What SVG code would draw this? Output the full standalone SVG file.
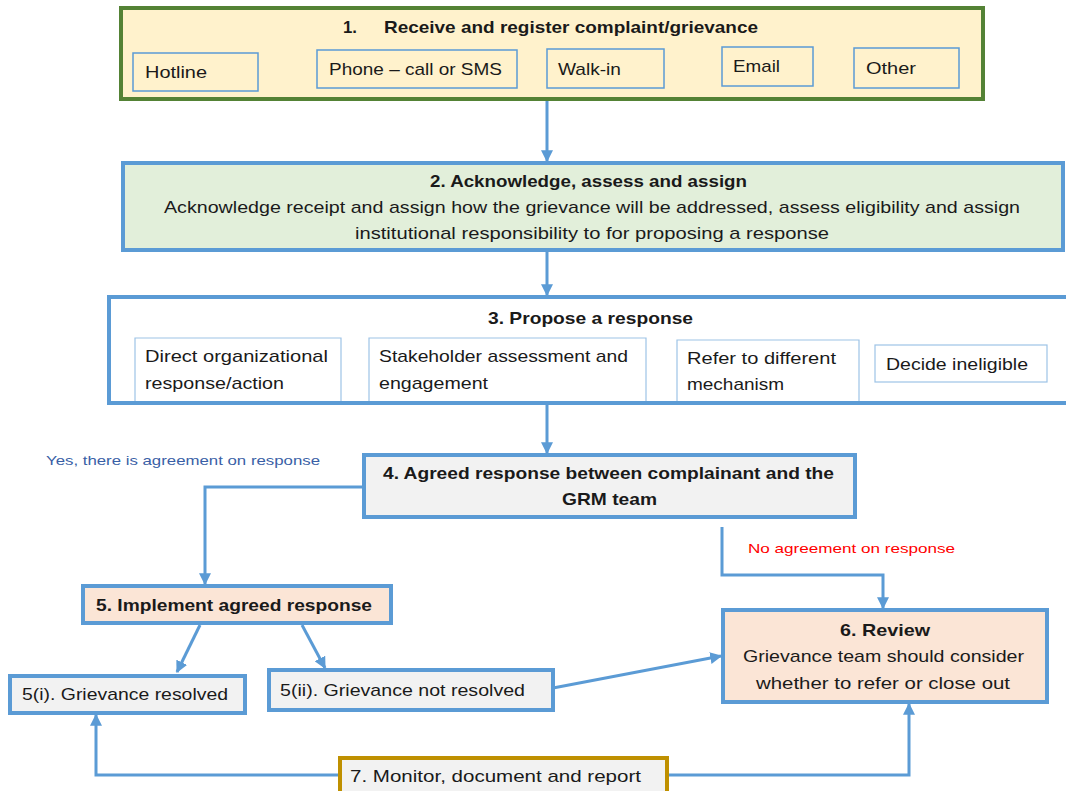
<svg xmlns="http://www.w3.org/2000/svg" width="1066" height="791" viewBox="0 0 1066 791">
<style>
text{font-family:"Liberation Sans",Arial,sans-serif;fill:#1a1a1a}
.t{font-size:17px}
.b{font-size:17px;font-weight:bold}
.s{font-size:13.5px}
.main{stroke:#5b9bd5;stroke-width:4}
.in1{fill:none;stroke:#5b9bd5;stroke-width:1.5}
.in3{fill:#fff;stroke:#9dc3e6;stroke-width:1.2}
.con{fill:none;stroke:#5b9bd5;stroke-width:3}
</style>
<defs>
<marker id="ah" viewBox="0 0 10 10" refX="9" refY="5" markerWidth="12" markerHeight="12" markerUnits="userSpaceOnUse" orient="auto">
<path d="M0,0 L10,5 L0,10 z" fill="#5b9bd5"/>
</marker>
</defs>
<rect width="1066" height="791" fill="#fff"/>
<g id="connectors">
<path class="con" d="M547,100 L547,161" marker-end="url(#ah)"/>
<path class="con" d="M547,252 L547,295" marker-end="url(#ah)"/>
<path class="con" d="M547,405 L547,453" marker-end="url(#ah)"/>
<path class="con" d="M364,487 L205,487 L205,584" marker-end="url(#ah)"/>
<path class="con" d="M722,527 L722,575 L883,575 L883,608" marker-end="url(#ah)"/>
<path class="con" d="M200,625 L177,672" marker-end="url(#ah)"/>
<path class="con" d="M302,625 L325,668" marker-end="url(#ah)"/>
<path class="con" d="M553,688 L721,656" marker-end="url(#ah)"/>
<path class="con" d="M340,775 L96,775 L96,715" marker-end="url(#ah)"/>
<path class="con" d="M667,775 L909,775 L909,704" marker-end="url(#ah)"/>
<text class="s" x="46" y="465" fill="#3a5fa6" style="fill:#3a5fa6" textLength="274" lengthAdjust="spacingAndGlyphs">Yes, there is agreement on response</text>
<text class="s" x="748" y="553" style="fill:#ff0000" textLength="207" lengthAdjust="spacingAndGlyphs">No agreement on response</text>
</g>
<g id="n1">
<rect x="121" y="8" width="862" height="91" fill="#fff2cc" stroke="#548235" stroke-width="4"/>
<text class="b" x="343" y="33" textLength="14" lengthAdjust="spacingAndGlyphs">1.</text>
<text class="b" x="384" y="33" textLength="374" lengthAdjust="spacingAndGlyphs">Receive and register complaint/grievance</text>
<rect class="in1" x="133" y="53" width="125" height="38"/>
<text class="t" x="145" y="78" textLength="62" lengthAdjust="spacingAndGlyphs">Hotline</text>
<rect class="in1" x="317" y="50" width="200" height="38"/>
<text class="t" x="329" y="75" textLength="173" lengthAdjust="spacingAndGlyphs">Phone  – call or SMS</text>
<rect class="in1" x="547" y="49" width="117" height="39"/>
<text class="t" x="558" y="75" textLength="63" lengthAdjust="spacingAndGlyphs">Walk-in</text>
<rect class="in1" x="722" y="47" width="91" height="39"/>
<text class="t" x="733" y="72" textLength="47" lengthAdjust="spacingAndGlyphs">Email</text>
<rect class="in1" x="854" y="48" width="105" height="40"/>
<text class="t" x="866" y="74" textLength="50" lengthAdjust="spacingAndGlyphs">Other</text>
</g>
<g id="n2">
<rect class="main" x="123" y="163" width="940" height="87" fill="#e2efda"/>
<text class="b" x="430" y="187" textLength="317" lengthAdjust="spacingAndGlyphs">2. Acknowledge, assess and assign</text>
<text class="t" x="164" y="213" textLength="856" lengthAdjust="spacingAndGlyphs">Acknowledge receipt and assign how the grievance will be addressed, assess eligibility and assign</text>
<text class="t" x="355" y="239" textLength="474" lengthAdjust="spacingAndGlyphs">institutional  responsibility  to for proposing  a response</text>
</g>
<g id="n3">
<rect class="main" x="109" y="297" width="962" height="106" fill="#fff"/>
<text class="b" x="488" y="324" textLength="205" lengthAdjust="spacingAndGlyphs">3. Propose a response</text>
<path class="in3" d="M135,401 L135,338 L341,338 L341,401"/>
<text class="t" x="145" y="362" textLength="183" lengthAdjust="spacingAndGlyphs">Direct organizational</text>
<text class="t" x="145" y="389" textLength="139" lengthAdjust="spacingAndGlyphs">response/action</text>
<path class="in3" d="M369,401 L369,338 L646,338 L646,401"/>
<text class="t" x="379" y="362" textLength="249" lengthAdjust="spacingAndGlyphs">Stakeholder  assessment  and</text>
<text class="t" x="379" y="389" textLength="109" lengthAdjust="spacingAndGlyphs">engagement</text>
<path class="in3" d="M677,401 L677,340 L859,340 L859,401"/>
<text class="t" x="687" y="364" textLength="149" lengthAdjust="spacingAndGlyphs">Refer to different</text>
<text class="t" x="687" y="390" textLength="97" lengthAdjust="spacingAndGlyphs">mechanism</text>
<rect class="in3" x="875" y="345" width="172" height="37"/>
<text class="t" x="886" y="370" textLength="142" lengthAdjust="spacingAndGlyphs">Decide ineligible</text>
</g>
<g id="n4">
<rect class="main" x="364" y="455" width="491" height="62" fill="#f2f2f2"/>
<text class="b" x="383" y="479" textLength="451" lengthAdjust="spacingAndGlyphs">4. Agreed response between complainant and the</text>
<text class="b" x="562" y="505" textLength="95" lengthAdjust="spacingAndGlyphs">GRM team</text>
</g>
<g id="n5">
<rect class="main" x="83" y="586" width="308" height="37" fill="#fbe5d6"/>
<text class="b" x="96" y="611" textLength="276" lengthAdjust="spacingAndGlyphs">5. Implement agreed response</text>
</g>
<g id="n5i">
<rect class="main" x="10" y="676" width="235" height="37" fill="#f2f2f2"/>
<text class="t" x="22" y="700" textLength="206" lengthAdjust="spacingAndGlyphs">5(i).  Grievance resolved</text>
</g>
<g id="n5ii">
<rect class="main" x="269" y="670" width="284" height="40" fill="#f2f2f2"/>
<text class="t" x="280" y="696" textLength="245" lengthAdjust="spacingAndGlyphs">5(ii).  Grievance not resolved</text>
</g>
<g id="n6">
<rect class="main" x="723" y="610" width="324" height="92" fill="#fbe5d6"/>
<text class="b" x="840" y="636" textLength="90" lengthAdjust="spacingAndGlyphs">6. Review</text>
<text class="t" x="743" y="662" textLength="281" lengthAdjust="spacingAndGlyphs">Grievance team should  consider</text>
<text class="t" x="756" y="689" textLength="254" lengthAdjust="spacingAndGlyphs">whether to refer or close  out</text>
</g>
<g id="n7">
<rect x="340" y="758" width="327" height="40" fill="#f2f2f2" stroke="#bf9000" stroke-width="4"/>
<text class="t" x="350" y="782" textLength="291" lengthAdjust="spacingAndGlyphs">7. Monitor, document and report</text>
</g>
</svg>
